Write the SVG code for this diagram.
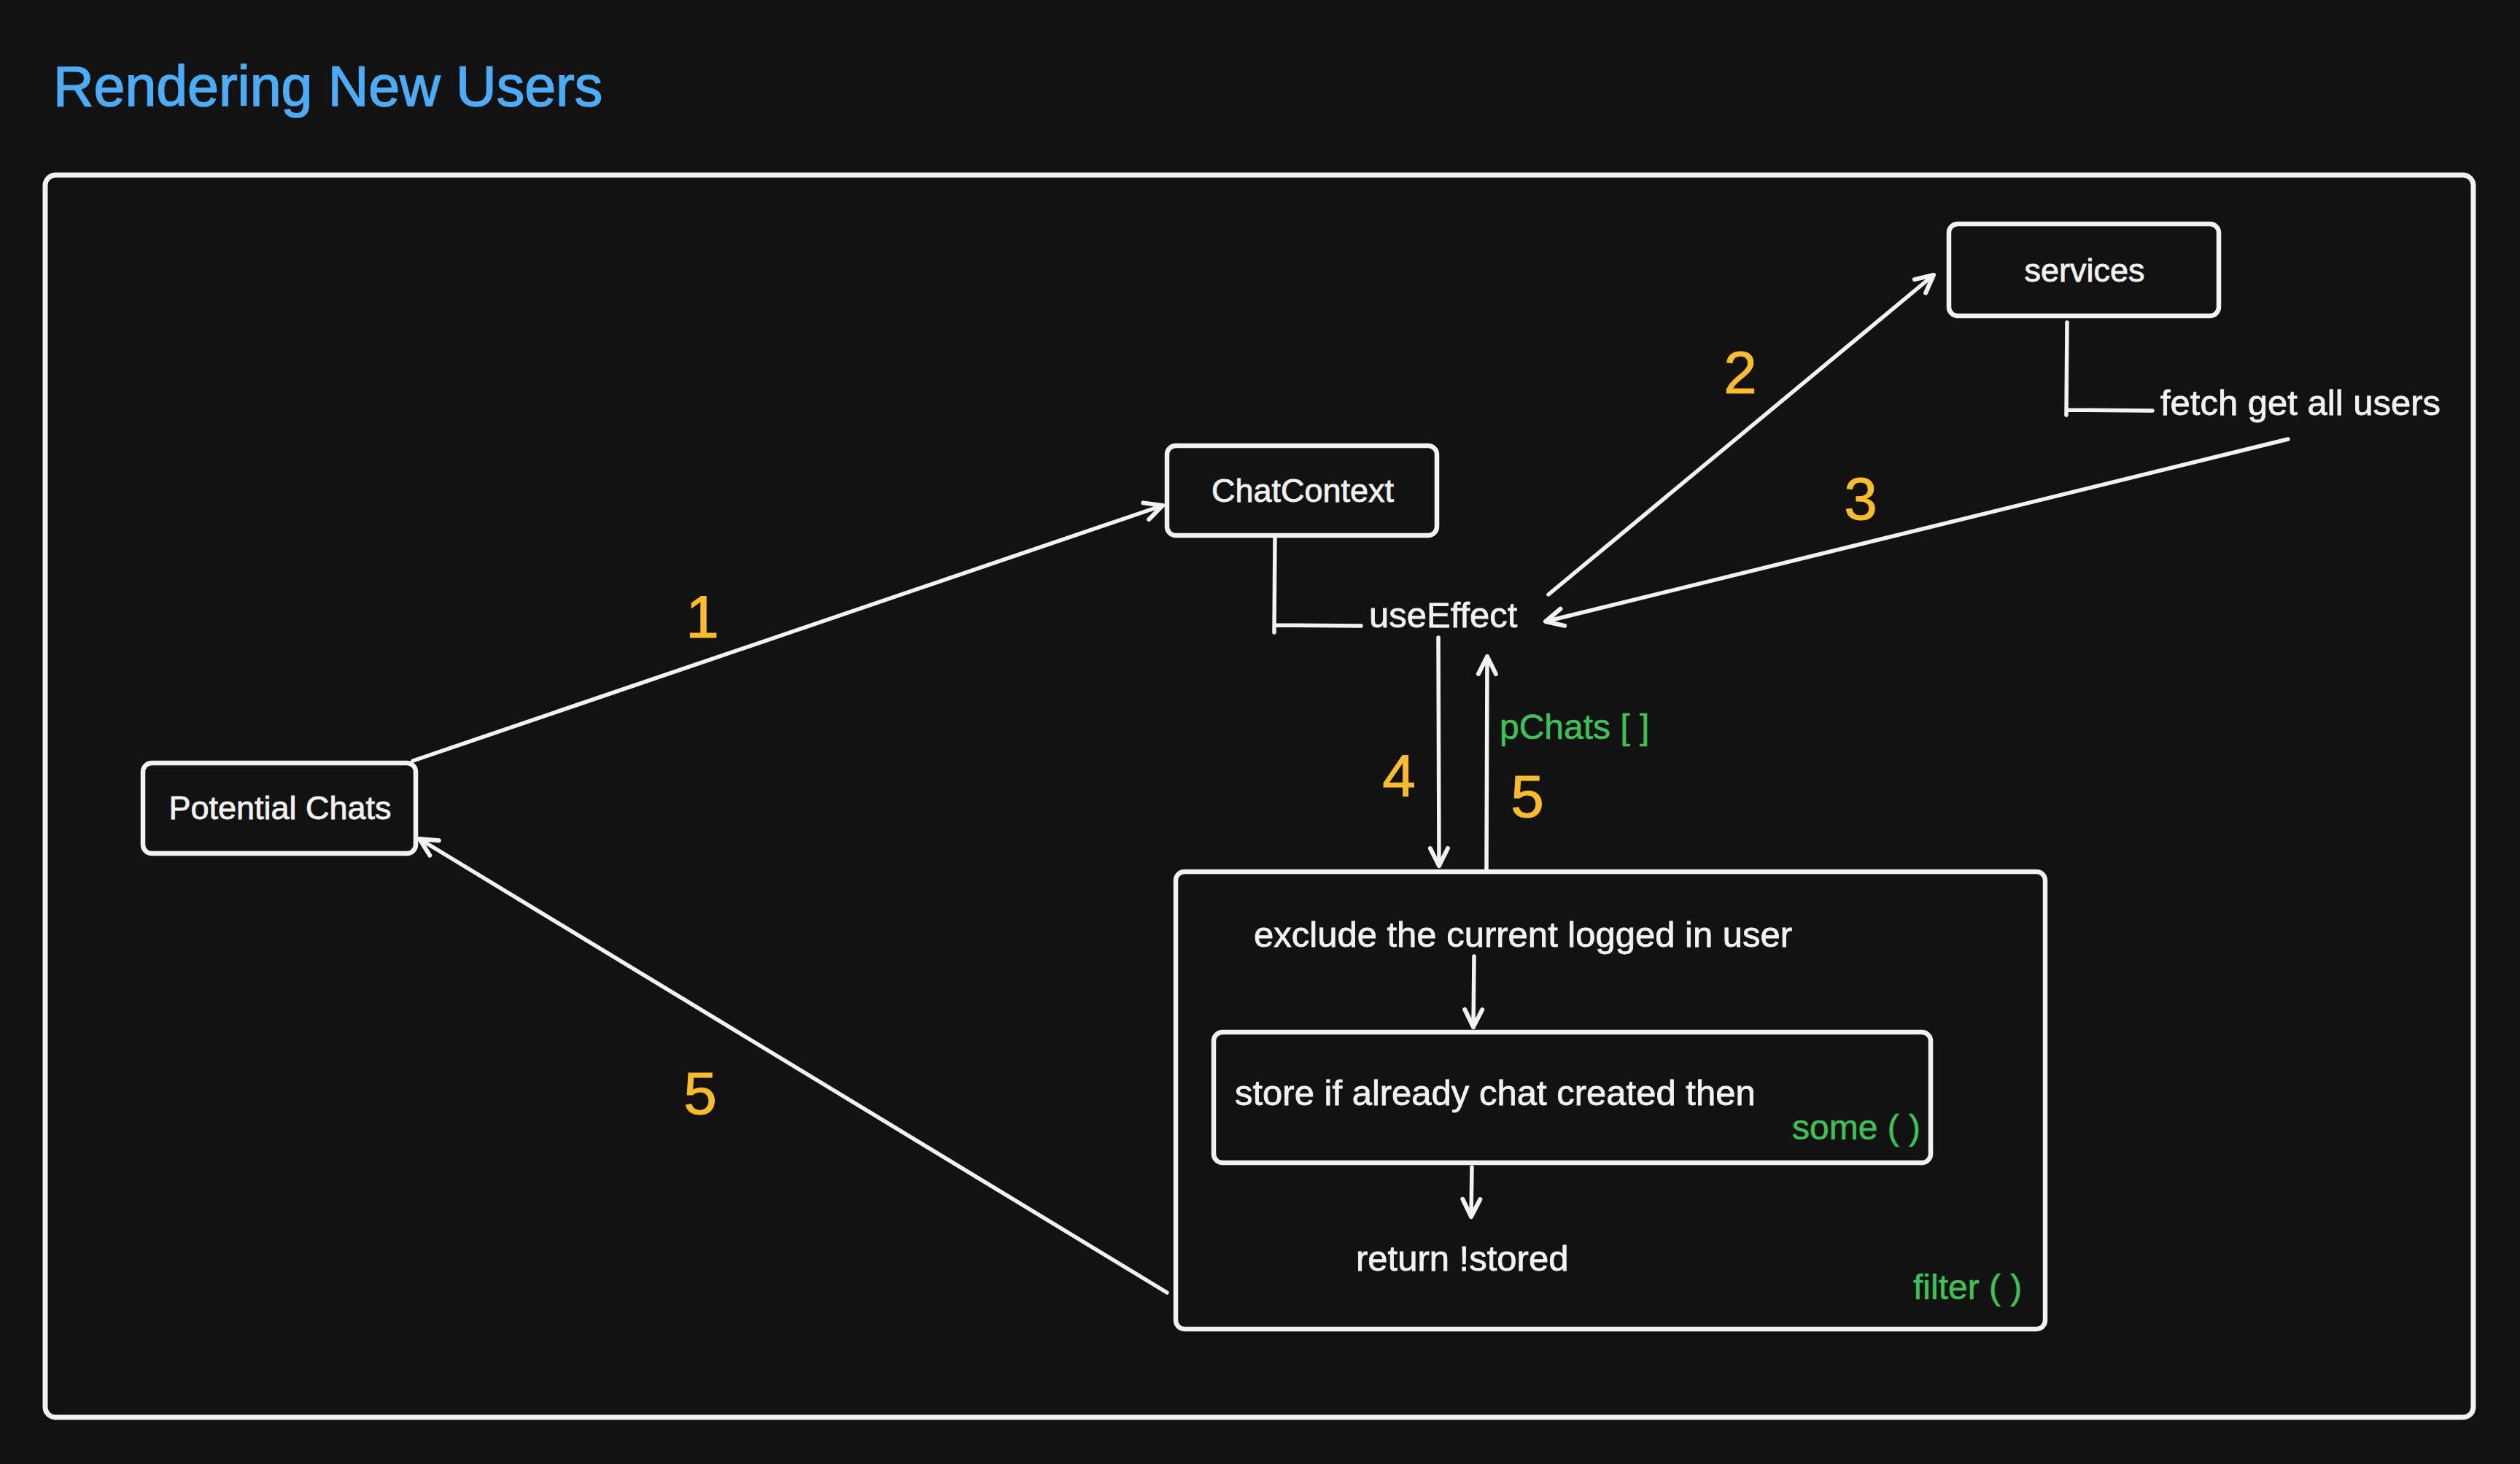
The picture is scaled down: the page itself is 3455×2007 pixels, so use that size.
<svg xmlns="http://www.w3.org/2000/svg" width="3455" height="2007" viewBox="0 0 3455 2007">
<defs>
<marker id="arr" markerUnits="userSpaceOnUse" markerWidth="60" markerHeight="60" viewBox="-40 -30 60 60" refX="0" refY="0" orient="auto" overflow="visible">
<path d="M -24 -12 L 0 0 L -24 12" fill="none" stroke="#f2f2f2" stroke-width="6" stroke-linecap="round" stroke-linejoin="round"/>
</marker>
</defs>
<style>
.box{fill:#121212;stroke:#f2f2f2;stroke-width:6.5}
.frame{fill:none;stroke:#f2f2f2;stroke-width:7}
.lbl{font-family:"Liberation Sans",Arial,sans-serif;font-size:45px;fill:#f2f2f2;stroke:#f2f2f2;stroke-width:0.8}
.txt{font-family:"Liberation Sans",Arial,sans-serif;font-size:49px;fill:#f2f2f2;stroke:#f2f2f2;stroke-width:0.8}
.grn{font-family:"Liberation Sans",Arial,sans-serif;font-size:48px;fill:#40c057;stroke:#40c057;stroke-width:0.6}
.num{font-family:"Liberation Sans",Arial,sans-serif;font-size:82px;fill:#fcbc2d;stroke:#fcbc2d;stroke-width:1}
.ttl{font-family:"Liberation Sans",Arial,sans-serif;font-size:77px;fill:#4dabf7;stroke:#4dabf7;stroke-width:1.5}
.ln{fill:none;stroke:#f2f2f2;stroke-width:5.5;stroke-linecap:round;stroke-linejoin:round}
.ar{fill:none;stroke:#f2f2f2;stroke-width:5.5;stroke-linecap:round;marker-end:url(#arr)}
</style>
<rect x="0" y="0" width="3455" height="2007" fill="#121212"/>
<text class="ttl" x="73" y="145">Rendering New Users</text>
<g id="frame">
<rect class="frame" x="62" y="240" width="3329" height="1703" rx="14"/>
</g>
<g id="potential-chats">
<rect class="box" x="196" y="1046" width="374" height="124" rx="12"/>
<text class="lbl" x="384" y="1123" text-anchor="middle">Potential Chats</text>
</g>
<g id="chat-context">
<rect class="box" x="1600" y="611" width="370" height="123" rx="12"/>
<text class="lbl" x="1786" y="688" text-anchor="middle">ChatContext</text>
</g>
<g id="use-effect">
<path class="ln" d="M1748 737 L1747 867 M1748 857 L1866 858"/>
<text class="txt" x="1877" y="860">useEffect</text>
</g>
<g id="services">
<rect class="box" x="2672" y="307" width="370" height="126" rx="12"/>
<text class="lbl" x="2858" y="386" text-anchor="middle">services</text>
</g>
<g id="fetch">
<path class="ln" d="M2834 442 L2833 569 M2834 562 L2951 563"/>
<text class="txt" x="2962" y="569">fetch get all users</text>
</g>
<g id="filter-box">
<rect class="box" x="1612" y="1195" width="1192" height="627" rx="12"/>
<text class="txt" x="1719" y="1298">exclude the current logged in user</text>
<text class="txt" x="1859" y="1742">return !stored</text>
<text class="grn" x="2623" y="1781">filter ( )</text>
</g>
<g id="some-box">
<rect class="box" x="1664" y="1415" width="983" height="179" rx="12"/>
<text class="txt" x="1693" y="1515">store if already chat created then</text>
<text class="grn" x="2457" y="1562">some ( )</text>
</g>
<g id="connectors">
<line class="ar" x1="566" y1="1043" x2="1594" y2="693"/>
<line class="ar" x1="2123" y1="815" x2="2651" y2="377"/>
<line class="ar" x1="3137" y1="602" x2="2119" y2="852"/>
<line class="ar" x1="1972" y1="874" x2="1973" y2="1187"/>
<line class="ar" x1="2038" y1="1192" x2="2039" y2="900"/>
<line class="ar" x1="2021" y1="1311" x2="2020" y2="1408"/>
<line class="ar" x1="2018" y1="1600" x2="2017" y2="1668"/>
<line class="ar" x1="1600" y1="1772" x2="575" y2="1150"/>
</g>
<g id="labels">
<text class="num" x="963" y="874" text-anchor="middle">1</text>
<text class="num" x="2386" y="539" text-anchor="middle">2</text>
<text class="num" x="2551" y="712" text-anchor="middle">3</text>
<text class="num" x="1918" y="1092" text-anchor="middle">4</text>
<text class="num" x="2094" y="1120" text-anchor="middle">5</text>
<text class="num" x="960" y="1527" text-anchor="middle">5</text>
<text class="grn" x="2056" y="1013">pChats [ ]</text>
</g>
</svg>
